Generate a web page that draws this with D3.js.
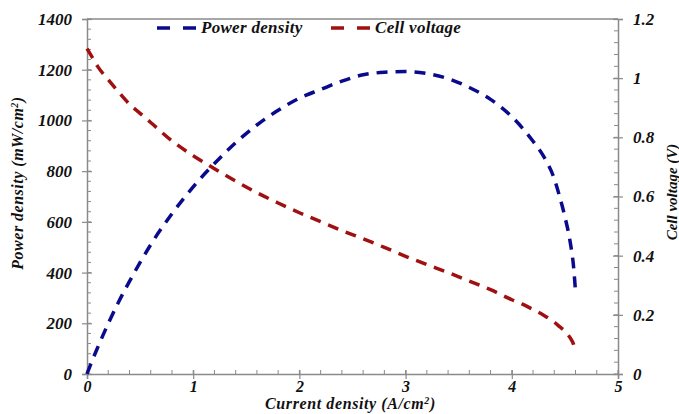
<!DOCTYPE html>
<html>
<head>
<meta charset="utf-8">
<script src="https://cdn.jsdelivr.net/npm/d3@7"></script>
<style>
  body { margin: 0; background: #fff; }
  text { font-family: "Times New Roman", "Liberation Serif", serif; font-style: italic; font-weight: bold; fill: #111; }
</style>
</head>
<body>
<div id="chart"></div>
<script>
// current density (A/cm2)
var current = [0, 0.05, 0.1, 0.2, 0.3, 0.4, 0.5, 0.6, 0.8, 1.0, 1.2, 1.4, 1.6, 1.8, 2.0, 2.2, 2.4, 2.6, 2.8, 3.0,
               3.2, 3.4, 3.6, 3.8, 4.0, 4.1, 4.2, 4.3, 4.4, 4.45, 4.5, 4.55, 4.58, 4.6];
// power density (mW/cm2)
var power = [0, 54, 104, 199, 286, 365, 440, 510, 632, 738, 830, 912, 982, 1040, 1088, 1122, 1155, 1180, 1190, 1193,
             1185, 1165, 1130, 1083, 1015, 970, 918, 858, 770, 700, 620, 520, 430, 325];
// cell voltage (V)
var voltage = [1.10, 1.07, 1.04, 0.995, 0.952, 0.912, 0.881, 0.85, 0.788, 0.738, 0.694, 0.652, 0.613, 0.578, 0.545,
               0.515, 0.485, 0.457, 0.428, 0.398, 0.370, 0.343, 0.314, 0.285, 0.251, 0.236, 0.218, 0.199, 0.175,
               0.160, 0.145, 0.122, 0.102, 0.075];

var xTicks = [0, 1, 2, 3, 4, 5];
var leftTicks = [0, 200, 400, 600, 800, 1000, 1200, 1400];
var rightTicks = [0, 0.2, 0.4, 0.6, 0.8, 1, 1.2];

var W = 679, H = 414;
var margin = {left: 87, right: 61, top: 19, bottom: 40};
var iw = W - margin.left - margin.right;
var ih = H - margin.top - margin.bottom;

var svg = d3.select("#chart").append("svg")
    .attr("width", W)
    .attr("height", H);

var g = svg.append("g")
    .attr("transform", "translate(" + margin.left + "," + margin.top + ")");

var x = d3.scaleLinear().domain([0, 5]).range([0, iw]);
var yL = d3.scaleLinear().domain([0, 1400]).range([ih, 0]);
var yR = d3.scaleLinear().domain([0, 1.2]).range([ih, 0]);

var axisColor = "#8a8a8a";
var serif = "'Times New Roman', 'Liberation Serif', serif";

// top border
g.append("line")
    .attr("x1", 0).attr("x2", iw)
    .attr("y1", 0).attr("y2", 0)
    .style("stroke", axisColor).style("stroke-width", 1.5);

// minor ticks
var xMinor = d3.range(0, 5.001, 0.2);
var lMinor = d3.range(0, 1400.1, 40);
var rMinor = d3.range(0, 1.2001, 0.04);

g.selectAll(".xminor").data(xMinor).enter().append("line")
    .attr("x1", function(d) { return x(d); }).attr("x2", function(d) { return x(d); })
    .attr("y1", ih).attr("y2", ih - 4)
    .style("stroke", axisColor).style("stroke-width", 1);

g.selectAll(".lminor").data(lMinor).enter().append("line")
    .attr("x1", 0).attr("x2", 4)
    .attr("y1", function(d) { return yL(d); }).attr("y2", function(d) { return yL(d); })
    .style("stroke", axisColor).style("stroke-width", 1);

g.selectAll(".rminor").data(rMinor).enter().append("line")
    .attr("x1", iw).attr("x2", iw - 4)
    .attr("y1", function(d) { return yR(d); }).attr("y2", function(d) { return yR(d); })
    .style("stroke", axisColor).style("stroke-width", 1);

// axes
var xAxis = g.append("g")
    .attr("transform", "translate(0," + ih + ")")
    .call(d3.axisBottom(x).tickValues(xTicks).tickSize(5).tickPadding(2).tickFormat(d3.format("d")));

var leftAxis = g.append("g")
    .call(d3.axisLeft(yL).tickValues(leftTicks).tickSize(5).tickPadding(10).tickFormat(d3.format("d")));

var rightAxis = g.append("g")
    .attr("transform", "translate(" + iw + ",0)")
    .call(d3.axisRight(yR).tickValues(rightTicks).tickSize(5).tickPadding(10)
        .tickFormat(function(d) { return d === 0 ? "0" : d3.format("~g")(d); }));

[xAxis, leftAxis, rightAxis].forEach(function(a) {
    a.attr("font-family", null);
    a.select(".domain").style("stroke", axisColor).style("stroke-width", 1.5);
    a.selectAll(".tick line").style("stroke", axisColor).style("stroke-width", 1.2);
    a.selectAll("text")
        .style("font-family", serif)
        .style("font-style", "italic")
        .style("font-weight", "bold")
        .style("font-size", "17px")
        .style("fill", "#111");
});
xAxis.selectAll("text").style("font-size", "16px");
// make major ticks cross the axis
leftAxis.selectAll(".tick line").attr("x1", 5).attr("x2", -5);
rightAxis.selectAll(".tick line").attr("x1", -5).attr("x2", 5);
xAxis.selectAll(".tick line").attr("y1", -4).attr("y2", 5);

// lines
var rows = current.map(function(c, i) { return {c: c, p: power[i], v: voltage[i]}; });

var powerLine = d3.line()
    .curve(d3.curveMonotoneX)
    .x(function(d) { return x(d.c); })
    .y(function(d) { return yL(d.p); });

var voltLine = d3.line()
    .curve(d3.curveMonotoneX)
    .x(function(d) { return x(d.c); })
    .y(function(d) { return yR(d.v); });

var blue = "#0a0a8c", red = "#a01010";

g.append("path")
    .datum(rows)
    .attr("d", voltLine)
    .style("fill", "none")
    .style("stroke", red)
    .style("stroke-width", 3.5)
    .style("stroke-dasharray", "11,8");

g.append("path")
    .datum(rows)
    .attr("d", powerLine)
    .style("fill", "none")
    .style("stroke", blue)
    .style("stroke-width", 3.5)
    .style("stroke-dasharray", "11,8");

// legend
var legendItems = [{name: "Power density", color: blue, x: 157}, {name: "Cell voltage", color: red, x: 331}];
var legend = svg.selectAll(".legend").data(legendItems).enter().append("g")
    .attr("transform", function(d) { return "translate(" + d.x + ",28)"; });

legend.append("line")
    .attr("x1", 0).attr("x2", 39)
    .attr("y1", 0).attr("y2", 0)
    .style("stroke", function(d) { return d.color; })
    .style("stroke-width", 3.5)
    .style("stroke-dasharray", "13,13");

legend.append("text")
    .attr("x", 44)
    .attr("y", 5)
    .style("font-family", serif)
    .style("font-size", "17px")
    .style("letter-spacing", "0.3px")
    .text(function(d) { return d.name; });

// axis labels
var xl = svg.append("text")
    .attr("x", margin.left + iw / 2 - 2)
    .attr("y", 409)
    .attr("text-anchor", "middle")
    .style("font-family", serif)
    .style("font-size", "16px")
    .style("letter-spacing", "0.6px");
xl.append("tspan").text("Current density (A/cm");
xl.append("tspan").attr("dy", -5).style("font-size", "10px").text("2");
xl.append("tspan").attr("dy", 5).text(")");

var yl = svg.append("text")
    .attr("transform", "translate(23,183) rotate(-90)")
    .attr("text-anchor", "middle")
    .style("font-family", serif)
    .style("font-size", "16px")
    .style("letter-spacing", "0.5px");
yl.append("tspan").text("Power density (mW/cm");
yl.append("tspan").attr("dy", -5).style("font-size", "10px").text("2");
yl.append("tspan").attr("dy", 5).text(")");

svg.append("text")
    .attr("transform", "translate(677,192) rotate(-90)")
    .attr("text-anchor", "middle")
    .style("font-family", serif)
    .style("font-size", "15px")
    .text("Cell voltage (V)");
</script>
</body>
</html>
